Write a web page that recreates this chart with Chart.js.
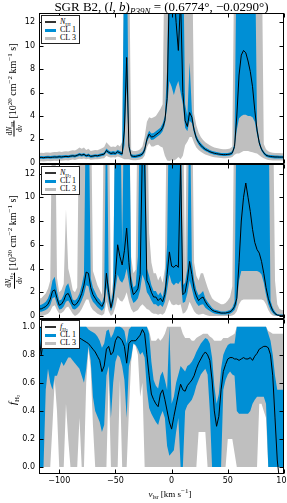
<!DOCTYPE html>
<html>
<head>
<meta charset="utf-8">
<script src="https://cdn.jsdelivr.net/npm/chart.js@4.4.0/dist/chart.umd.min.js"></script>
<style>
  html, body { margin: 0; padding: 0; background: #fff; overflow: hidden; }
  #wrap { position: relative; width: 287px; height: 503px; overflow: hidden; font-family: 'Liberation Serif', serif; color: #000; }
  canvas { position: absolute; left: 0; }
  .title { position: absolute; left: 0; top: 0; width: 323px; text-align: center; font-size: 13px; line-height: 13px; white-space: nowrap; }
  .title sub { font-size: 9px; vertical-align: -3px; line-height: 0; }
  .ylab { position: absolute; white-space: nowrap; font-size: 10px; line-height: 10px; transform: translate(-50%, -50%) rotate(-90deg); }
  .ylab sup, .xlab sup { font-size: 7px; vertical-align: 4px; line-height: 0; }
  .frac { display: inline-block; vertical-align: middle; text-align: center; font-size: 7.5px; line-height: 7px; margin-right: 2px; }
  .frac .nu { display: block; border-bottom: 0.7px solid #000; padding: 0 1px 1px 1px; }
  .frac .de { display: block; padding-top: 1px; }
  .frac sub, .ylab sub { font-size: 5px; vertical-align: -2px; line-height: 0; }
  .ylab sub sub { font-size: 4px; vertical-align: -1px; }
  .flab { font-size: 11px; }
  .flab sub { font-size: 7px; vertical-align: -3px; }
  .xlab { position: absolute; white-space: nowrap; font-size: 9px; line-height: 9px; transform: translate(-50%, -50%); }
  .xlab sub { font-size: 6px; vertical-align: -2px; line-height: 0; }
  .leg { position: absolute; left: 41px; width: 37px; height: 27px; border: 1px solid #222; background: #fff; opacity: 0.999; }
  .row { position: absolute; left: 0; width: 100%; height: 8px; }
  .sw { position: absolute; left: 3px; width: 11px; }
  .sk { background: #333; height: 2px; top: 3px; }
  .sb { background: #008fd5; height: 3px; top: 3px; }
  .sg { background: #bfbfbf; height: 3px; top: 3px; }
  .lt { position: absolute; left: 18px; top: 0; font-size: 8px; line-height: 8px; white-space: nowrap; color: #000; }
  .lt sub { font-size: 5px; vertical-align: -2px; line-height: 0; }
  .lt sub sub { font-size: 4px; vertical-align: -1px; }
</style>
</head>
<body>
<div id="wrap">
  <canvas id="cHI" width="287" height="175" style="top:0px;width:287px;height:175px"></canvas>
  <canvas id="cH2" width="287" height="175" style="top:155px;width:287px;height:175px"></canvas>
  <canvas id="cF" width="287" height="193" style="top:310px;width:287px;height:193px"></canvas>

  <div class="title">SGR B2, (<i>l</i>, <i>b</i>)<sub><i>P39N</i></sub> = (0.6774°, −0.0290°)</div>

  <div class="ylab" style="left:14px;top:90px"><span class="frac"><span class="nu">d<i>N</i><sub>HI</sub></span><span class="de">d<i>v</i></span></span>[10<sup>20</sup> cm<sup>−2</sup> km<sup>−1</sup> s]</div>
  <div class="ylab" style="left:14px;top:242px"><span class="frac"><span class="nu">d<i>N</i><sub>H<sub>2</sub></sub></span><span class="de">d<i>v</i></span></span>[10<sup>20</sup> cm<sup>−2</sup> km<sup>−1</sup> s]</div>
  <div class="ylab flab" style="left:13px;top:400px"><i>f</i><sub>H<sub>2</sub></sub></div>
  <div class="xlab" style="left:170px;top:494px"><i>v</i><sub>lsr</sub> [km s<sup>−1</sup>]</div>

  <div class="leg" style="top:15px">
    <div class="row" style="top:2px"><span class="sw sk"></span><span class="lt"><i>N</i><sub>HI</sub></span></div>
    <div class="row" style="top:10px"><span class="sw sb"></span><span class="lt">CL 1</span></div>
    <div class="row" style="top:18px"><span class="sw sg"></span><span class="lt">CL 3</span></div>
  </div>
  <div class="leg" style="top:166px">
    <div class="row" style="top:2px"><span class="sw sk"></span><span class="lt"><i>N</i><sub>H<sub>2</sub></sub></span></div>
    <div class="row" style="top:10px"><span class="sw sb"></span><span class="lt">CL 1</span></div>
    <div class="row" style="top:18px"><span class="sw sg"></span><span class="lt">CL 3</span></div>
  </div>
  <div class="leg" style="top:320px">
    <div class="row" style="top:2px"><span class="sw sk"></span><span class="lt"><i>f</i><sub>H<sub>2</sub></sub></span></div>
    <div class="row" style="top:10px"><span class="sw sb"></span><span class="lt">CL 1</span></div>
    <div class="row" style="top:18px"><span class="sw sg"></span><span class="lt">CL 3</span></div>
  </div>
</div>

<script>
// velocity channels (km/s)
const velocity = [
  -118,-116,-114,-112,-110,-108,-106,-104,-102,-100,
  -98,-96,-94,-92,-90,-88,-86,-84,-82,-80,
  -78,-76,-74,-72,-70,-68,-66,-64,-62,-60,
  -58,-56,-54,-52,-50,-48,-46,-44,-42,-40,
  -38,-36,-34,-32,-30,-28,-26,-24,-22,-20,
  -18,-16,-14,-12,-10,-8,-6,-4,-2,0,
  2,4,6,8,10,12,14,16,18,20,
  22,24,26,28,30,32,34,36,38,40,
  42,44,46,48,50,52,54,56,58,60,
  62,64,66,68,70,72,74,76,78,80,
  82,84,86,88,90,92,94,96,98,100
];

const xTicks = [-100, -50, 0, 50, 100];
const columnTicks = [0, 2, 4, 6, 8, 10, 12];
const fractionTicks = [0, 0.2, 0.4, 0.6, 0.8, 1.0];

// panel 1: dN_HI/dv
const hiLine = [
  0.45,0.46,0.44,0.47,0.48,0.46,0.48,0.50,0.49,0.52,
  0.50,0.53,0.55,0.53,0.57,0.60,0.57,0.64,0.72,0.66,
  0.72,0.60,0.66,0.55,0.58,0.62,0.60,0.65,0.70,0.75,
  1.05,0.90,0.80,0.85,0.80,0.95,0.85,0.75,2.80,9.00,
  1.40,0.60,0.55,0.55,0.60,0.65,0.75,1.10,2.00,2.45,
  2.20,2.25,2.40,2.55,2.70,3.00,3.60,5.50,15,15,
  15,12,9.6,14,6.0,3.6,3.1,4.3,3.9,2.8,
  2.1,1.75,1.5,1.3,1.15,1.05,0.95,0.88,0.82,0.78,
  0.75,0.72,0.70,0.70,0.72,0.75,0.85,1.40,4.00,7.50,
  9.20,9.60,9.40,8.70,7.80,6.50,4.50,2.80,1.70,1.15,
  0.85,0.65,0.58,0.54,0.52,0.50,0.50,0.49,0.49,0.49
];
const hiCL1lo = [
  0.33,0.34,0.32,0.35,0.36,0.34,0.36,0.38,0.37,0.40,
  0.38,0.41,0.43,0.41,0.45,0.48,0.45,0.52,0.59,0.54,
  0.59,0.48,0.53,0.43,0.46,0.50,0.48,0.53,0.58,0.62,
  0.90,0.76,0.66,0.70,0.66,0.80,0.70,0.60,1.50,6.50,
  1.10,0.46,0.42,0.42,0.46,0.50,0.60,0.90,1.75,2.20,
  1.95,2.00,2.15,2.30,2.45,2.70,3.25,4.80,7.00,6.50,
  5.80,6.50,7.00,6.00,5.00,3.00,2.70,3.60,3.40,2.50,
  1.90,1.55,1.32,1.14,1.00,0.92,0.82,0.76,0.70,0.66,
  0.63,0.60,0.58,0.58,0.60,0.63,0.72,1.20,2.80,3.80,
  4.00,4.10,4.10,4.00,4.00,3.90,3.50,2.40,1.50,1.00,
  0.72,0.53,0.46,0.42,0.40,0.38,0.38,0.37,0.37,0.37
];
const hiCL1hi = [
  0.57,0.58,0.56,0.59,0.60,0.58,0.60,0.62,0.61,0.64,
  0.62,0.65,0.67,0.65,0.69,0.72,0.69,0.76,0.85,0.78,
  0.85,0.72,0.79,0.67,0.70,0.74,0.72,0.77,0.82,0.88,
  1.22,1.05,0.94,1.00,0.95,1.12,1.00,0.92,20,20,
  1.75,0.74,0.68,0.68,0.74,0.80,0.92,1.35,2.30,2.75,
  2.50,2.55,2.70,2.85,3.00,3.35,4.00,8.00,20,20,
  20,20,20,20,20,5.00,4.00,8.60,4.50,3.10,
  2.35,1.95,1.70,1.48,1.32,1.20,1.10,1.02,0.96,0.92,
  0.88,0.85,0.83,0.83,0.85,0.88,1.00,1.70,20,20,
  20,20,20,20,20,20,20,3.20,2.00,1.30,
  0.98,0.78,0.70,0.66,0.64,0.62,0.62,0.61,0.61,0.61
];
const hiCL3lo = [
  0.12,0.13,0.11,0.14,0.15,0.13,0.15,0.17,0.16,0.19,
  0.17,0.20,0.22,0.20,0.25,0.28,0.25,0.30,0.35,0.32,
  0.38,0.30,0.34,0.27,0.29,0.31,0.30,0.33,0.36,0.40,
  0.60,0.50,0.45,0.48,0.45,0.55,0.48,0.40,0.30,0.30,
  0.30,0.25,0.22,0.22,0.25,0.28,0.35,0.60,1.30,1.70,
  1.40,1.40,1.50,1.55,1.40,1.30,0.60,0.20,0.15,0.25,
  0.20,0.30,0.50,0.30,0.60,1.50,1.80,2.20,2.20,1.70,
  1.30,1.10,0.95,0.82,0.72,0.65,0.58,0.52,0.48,0.46,
  0.44,0.42,0.40,0.40,0.42,0.44,0.50,0.70,0.80,0.80,
  0.90,1.00,1.00,1.00,0.95,0.90,0.85,0.80,0.65,0.50,
  0.40,0.30,0.25,0.22,0.20,0.20,0.20,0.19,0.19,0.19
];
const hiCL3hi = [
  0.85,0.86,0.84,0.88,0.89,0.87,0.90,0.92,0.92,0.96,
  0.93,0.96,0.99,0.96,1.03,1.08,1.05,1.15,1.30,1.20,
  1.30,1.10,1.20,1.00,1.05,1.10,1.08,1.15,1.25,1.35,
  1.75,1.55,1.35,1.40,1.35,1.55,1.40,1.80,20,20,
  20,1.10,1.00,1.00,1.05,1.15,1.40,2.20,3.50,3.90,
  3.80,3.90,4.00,4.30,4.60,5.00,20,20,20,20,
  20,20,20,20,20,20,20,20,20,4.20,
  3.20,2.60,2.20,1.95,1.75,1.62,1.50,1.40,1.32,1.26,
  1.22,1.18,1.15,1.15,1.18,1.22,1.40,20,20,20,
  20,20,20,20,20,20,20,20,20,20,
  1.60,1.15,0.98,0.90,0.86,0.84,0.83,0.83,0.82,0.82
];

// panel 2: dN_H2/dv
const h2Line = [
  0.60,0.60,0.70,0.80,1.00,1.40,2.10,2.20,1.50,0.90,
  1.00,1.30,1.80,1.90,1.50,1.00,0.90,1.10,1.40,1.90,
  2.60,3.70,3.60,2.40,1.80,1.50,1.20,1.00,0.80,1.20,
  3.60,2.00,0.70,1.50,3.50,6.00,5.00,4.30,5.50,7.40,
  4.50,2.60,1.80,2.00,2.30,3.50,14.0,13.0,3.00,2.60,
  2.00,1.60,1.60,1.30,1.50,1.20,1.80,3.50,5.40,4.20,
  4.10,4.30,4.10,13.0,1.80,2.00,3.00,4.60,3.50,2.30,
  1.70,1.30,1.50,1.60,1.20,0.90,0.70,0.50,0.40,0.35,
  0.30,0.25,0.25,0.25,0.30,0.35,0.50,0.80,1.50,4.50,
  8.00,10.0,11.2,10.0,8.80,7.30,6.20,5.60,5.30,4.60,
  3.60,2.40,1.50,0.90,0.45,0.20,0.08,0.05,0.05,0.05
];
const h2CL1lo = [
  0.35,0.35,0.42,0.50,0.65,0.90,1.50,1.60,1.00,0.55,
  0.60,0.80,1.20,1.30,1.00,0.60,0.55,0.70,0.90,1.30,
  1.80,2.60,2.50,1.60,1.20,1.00,0.75,0.60,0.45,0.70,
  2.40,1.20,0.40,0.90,2.30,3.50,3.00,2.80,3.20,4.00,
  2.80,1.60,1.10,1.25,1.50,2.20,3.50,3.00,2.00,1.70,
  1.30,1.00,1.00,0.80,0.95,0.75,1.20,2.20,3.50,2.80,
  2.60,2.80,2.70,3.00,1.10,1.20,1.90,3.00,2.30,1.50,
  1.10,0.85,0.95,1.00,0.70,0.55,0.42,0.30,0.22,0.18,
  0.15,0.12,0.12,0.12,0.15,0.20,0.32,0.50,1.00,3.00,
  3.80,3.80,3.80,3.80,3.80,3.80,3.80,3.80,3.70,3.50,
  2.80,1.80,1.00,0.50,0.25,0.08,0.02,0.00,0.00,0.00
];
const h2CL1hi = [
  0.90,0.95,1.05,1.20,1.50,2.00,3.00,3.30,2.10,1.30,
  1.40,1.80,2.50,2.75,2.10,1.40,1.30,1.50,1.90,2.60,
  3.50,20,20,3.20,2.40,2.00,1.60,1.40,1.10,1.70,
  20,2.80,1.10,2.10,20,20,20,6.00,20,20,
  20,3.40,2.40,2.60,5.00,20,20,20,4.00,3.40,
  2.60,2.10,2.10,1.75,2.00,1.60,2.50,6.00,20,20,
  20,20,20,20,2.60,2.80,4.00,20,4.60,3.00,
  2.20,1.75,1.90,2.10,1.50,1.20,0.95,0.70,0.55,0.50,
  0.45,0.38,0.38,0.38,0.45,0.50,0.70,1.20,20,20,
  20,20,20,20,20,20,20,20,20,20,
  20,20,20,1.30,0.70,0.35,0.18,0.12,0.12,0.12
];
const h2CL3lo = [
  0.05,0.00,0.05,0.10,0.20,0.40,0.80,0.90,0.50,0.20,
  0.25,0.40,0.70,0.80,0.50,0.20,0.00,0.10,0.30,0.60,
  1.00,1.40,1.40,0.80,0.50,0.35,0.20,0.10,0.05,0.20,
  1.20,0.40,0.00,0.20,0.80,1.60,1.30,1.20,1.50,2.00,
  1.20,0.60,0.30,0.40,0.50,0.80,1.00,0.80,0.60,0.50,
  0.30,0.20,0.20,0.10,0.20,0.10,0.30,0.80,1.40,1.00,
  0.90,1.00,0.90,1.00,0.20,0.30,0.60,1.20,0.80,0.40,
  0.20,0.10,0.15,0.20,0.10,0.05,0.00,0.00,0.00,0.00,
  0.00,0.00,0.00,0.00,0.00,0.00,0.05,0.15,0.40,1.00,
  1.30,1.40,1.40,1.40,1.40,1.40,1.40,1.40,1.40,1.40,
  1.30,1.00,0.50,0.20,0.05,0.00,0.00,0.00,0.00,0.00
];
const h2CL3hi = [
  1.50,1.50,1.70,1.90,2.30,3.00,20,20,3.20,2.00,
  2.20,2.70,9.00,4.00,3.20,2.20,2.00,2.40,20,20,
  20,20,20,20,3.80,3.20,2.60,2.20,1.80,20,
  20,20,1.60,3.00,20,20,20,20,20,20,
  20,5.00,3.60,3.90,20,20,20,20,20,7.00,
  4.50,3.60,3.60,3.00,3.40,2.80,4.00,20,20,20,
  20,20,20,20,20,3.80,20,20,20,4.50,
  3.40,3.00,3.60,3.60,3.00,2.40,1.90,1.50,1.30,1.20,
  1.10,1.00,1.00,1.10,1.30,1.60,2.50,20,20,20,
  20,20,20,20,20,20,20,20,20,20,
  20,20,20,20,20,3.00,1.00,0.60,0.50,0.50
];

// panel 3: f_H2
const fLine = [
  0.93,0.80,0.90,0.95,0.96,0.96,0.95,0.96,0.95,0.96,
  0.95,0.94,0.93,0.94,0.95,0.95,0.94,0.93,0.92,0.91,
  0.90,0.89,0.88,0.86,0.84,0.82,0.79,0.76,0.68,0.72,
  0.84,0.86,0.80,0.82,0.90,0.93,0.92,0.90,0.86,0.74,
  0.88,0.90,0.90,0.90,0.92,0.94,0.98,0.95,0.80,0.65,
  0.52,0.48,0.45,0.43,0.52,0.55,0.48,0.40,0.32,0.27,
  0.36,0.44,0.52,0.59,0.55,0.54,0.58,0.60,0.62,0.65,
  0.70,0.74,0.77,0.80,0.82,0.80,0.76,0.62,0.40,0.29,
  0.36,0.55,0.68,0.73,0.77,0.78,0.78,0.77,0.77,0.76,
  0.77,0.78,0.77,0.77,0.78,0.76,0.79,0.81,0.84,0.85,
  0.86,0.86,0.85,0.80,0.65,0.35,0.05,-0.10,-0.25,-0.40
];
const fCL1lo = [
  0.00,0.00,0.00,0.55,0.70,0.60,0.55,0.65,0.65,0.70,
  0.75,0.72,0.75,0.78,0.78,0.76,0.74,0.72,0.70,0.65,
  0.60,0.70,0.86,0.76,0.50,0.40,0.36,0.32,0.25,0.30,
  0.65,0.72,0.35,0.60,0.75,0.80,0.78,0.72,0.62,0.35,
  0.72,0.78,0.88,0.87,0.84,0.80,0.82,0.78,0.55,0.42,
  0.38,0.35,0.32,0.30,0.36,0.40,0.35,0.15,0.08,0.10,
  0.12,0.25,0.35,0.00,0.00,0.40,0.44,0.46,0.48,0.52,
  0.58,0.62,0.66,0.68,0.70,0.66,0.40,0.00,0.00,0.00,
  0.00,0.00,0.55,0.62,0.66,0.68,0.66,0.65,0.40,0.38,
  0.38,0.38,0.38,0.38,0.40,0.45,0.48,0.50,0.50,0.50,
  0.50,0.45,0.00,0.00,0.00,0.00,0.00,0.00,0.00,0.00
];
const fCL1hi = [
  1.00,1.00,1.00,1.00,1.00,1.00,1.00,1.00,1.00,1.00,
  1.00,1.00,1.00,1.00,1.00,1.00,1.00,1.00,1.00,1.00,
  1.00,1.00,0.98,0.97,0.96,0.95,0.93,0.90,0.85,0.88,
  0.97,0.98,0.92,0.95,1.00,1.00,1.00,0.99,0.97,0.88,
  0.98,1.00,1.00,1.00,1.00,1.00,1.00,1.00,1.00,0.95,
  0.75,0.62,0.58,0.56,0.65,0.68,0.62,0.55,1.00,0.45,
  0.50,0.60,0.66,0.72,0.70,0.68,0.72,0.73,0.75,0.78,
  0.82,0.85,0.88,0.90,0.92,0.91,0.88,0.78,0.58,0.45,
  0.52,0.70,0.80,0.84,0.87,0.88,0.88,0.88,1.00,1.00,
  1.00,1.00,1.00,1.00,1.00,1.00,1.00,1.00,1.00,1.00,
  1.00,1.00,0.95,0.90,0.80,0.65,0.55,0.55,0.55,0.55
];
const fCL3lo = [
  0.00,0.00,0.00,0.00,0.00,0.00,0.30,0.62,0.40,0.00,
  0.00,0.00,0.45,0.20,0.00,0.00,0.00,0.00,0.35,0.00,
  0.00,0.60,0.84,0.70,0.30,0.00,0.00,0.00,0.00,0.00,
  0.00,0.65,0.00,0.00,0.00,0.00,0.62,0.00,0.00,0.00,
  0.40,0.75,0.88,0.86,0.80,0.50,0.60,0.00,0.00,0.00,
  0.00,0.00,0.00,0.00,0.00,0.00,0.00,0.00,0.00,0.00,
  0.00,0.00,0.00,0.00,0.00,0.00,0.00,0.00,0.00,0.00,
  0.00,0.25,0.25,0.25,0.25,0.00,0.00,0.00,0.00,0.00,
  0.00,0.00,0.00,0.00,0.20,0.20,0.20,0.10,0.00,0.00,
  0.00,0.00,0.00,0.00,0.00,0.00,0.00,0.00,0.45,0.45,
  0.40,0.35,0.00,0.00,0.00,0.00,0.00,0.00,0.00,0.00
];
const fCL3hi = [
  1.00,1.00,1.00,1.00,1.00,1.00,1.00,1.00,1.00,1.00,
  1.00,1.00,1.00,1.00,1.00,1.00,1.00,1.00,1.00,1.00,
  1.00,1.00,1.00,1.00,1.00,1.00,1.00,1.00,1.00,1.00,
  1.00,1.00,1.00,1.00,1.00,1.00,1.00,1.00,1.00,1.00,
  1.00,1.00,1.00,1.00,1.00,1.00,1.00,1.00,1.00,0.97,
  0.90,0.90,0.90,0.92,0.90,0.92,0.95,1.00,1.00,1.00,
  1.00,1.00,1.00,1.00,0.95,0.92,0.92,0.92,0.90,0.90,
  0.92,0.93,0.94,0.95,0.95,0.95,0.93,0.92,0.90,0.90,
  0.90,0.90,0.92,0.92,0.92,0.93,0.94,0.95,1.00,1.00,
  1.00,1.00,1.00,1.00,1.00,1.00,1.00,1.00,1.00,1.00,
  1.00,1.00,0.97,0.96,0.95,0.95,0.95,0.95,0.95,0.95
];

const BLUE = '#008fd5';
const GRAY = '#bfbfbf';
const tickFont = { family: 'DejaVu Sans', size: 8 };

function pts(arr) {
  return velocity.map((v, i) => ({ x: v, y: arr[i] }));
}

function fmtX(v) {
  return v < 0 ? '\u2212' + Math.abs(v) : String(v);
}

// box round the plot and inward ticks on all four sides, like the mpl classic style
const frameTicks = {
  id: 'frameTicks',
  afterDraw(chart) {
    const { ctx, chartArea: a } = chart;
    const xs = chart.scales.x, ys = chart.scales.y;
    const L = Math.round(a.left) + 0.5, R = Math.round(a.right) - 0.5;
    const T = Math.round(a.top) + 0.5, B = Math.round(a.bottom) - 0.5;
    ctx.save();
    ctx.strokeStyle = '#000';
    ctx.lineWidth = 1;
    ctx.beginPath();
    xTicks.forEach(v => {
      const px = Math.round(xs.getPixelForValue(v)) + 0.5;
      ctx.moveTo(px, T); ctx.lineTo(px, T + 4);
      ctx.moveTo(px, B); ctx.lineTo(px, B - 4);
    });
    ys.ticks.forEach(t => {
      const py = Math.round(ys.getPixelForValue(t.value)) + 0.5;
      ctx.moveTo(L, py); ctx.lineTo(L + 4, py);
      ctx.moveTo(R, py); ctx.lineTo(R - 4, py);
    });
    ctx.stroke();
    ctx.strokeRect(L, T, R - L, B - T);
    ctx.restore();
  }
};

function bandSet(arr, fill, color) {
  return {
    data: pts(arr), fill: fill, backgroundColor: color,
    borderColor: 'rgba(0,0,0,0)', borderWidth: 0, pointRadius: 0, tension: 0
  };
}

function makePanel(id, cfg) {
  return new Chart(document.getElementById(id), {
    type: 'line',
    data: {
      datasets: [
        { data: pts(cfg.line), borderColor: '#000', borderWidth: 1, pointRadius: 0, fill: false, tension: 0 },
        bandSet(cfg.cl1lo, false, BLUE),
        bandSet(cfg.cl1hi, '-1', BLUE),
        bandSet(cfg.cl3lo, false, GRAY),
        bandSet(cfg.cl3hi, '-1', GRAY)
      ]
    },
    options: {
      responsive: false,
      animation: false,
      devicePixelRatio: 1,
      layout: { padding: cfg.pad },
      plugins: { legend: { display: false }, tooltip: { enabled: false } },
      scales: {
        x: {
          type: 'linear', min: -118, max: 100, display: cfg.showX,
          grid: { display: false, drawTicks: false }, border: { display: false },
          afterBuildTicks: s => { s.ticks = xTicks.map(v => ({ value: v })); },
          ticks: { font: tickFont, color: '#000', padding: 2, maxRotation: 0, autoSkip: false, callback: v => fmtX(v) },
          afterFit: s => { s.height = cfg.showX ? 29 : 0; s.paddingLeft = 0; s.paddingRight = 0; }
        },
        y: {
          type: 'linear', min: cfg.ymin, max: cfg.ymax,
          grid: { display: false, drawTicks: false }, border: { display: false },
          afterBuildTicks: s => { s.ticks = cfg.yTicks.map(v => ({ value: v })); },
          ticks: { font: tickFont, color: '#000', padding: 4, autoSkip: false, callback: cfg.yFmt },
          afterFit: s => { s.width = 39; s.paddingTop = 0; s.paddingBottom = 0; }
        }
      }
    },
    plugins: [frameTicks]
  });
}

makePanel('cHI', {
  line: hiLine, cl1lo: hiCL1lo, cl1hi: hiCL1hi, cl3lo: hiCL3lo, cl3hi: hiCL3hi,
  ymin: -0.1, ymax: 12.8, yTicks: columnTicks, yFmt: v => String(v),
  showX: false, pad: { top: 13, bottom: 11, left: 0, right: 3 }
});
makePanel('cH2', {
  line: h2Line, cl1lo: h2CL1lo, cl1hi: h2CL1hi, cl3lo: h2CL3lo, cl3hi: h2CL3hi,
  ymin: -0.25, ymax: 12.8, yTicks: columnTicks, yFmt: v => String(v),
  showX: false, pad: { top: 9, bottom: 11, left: 0, right: 3 }
});
makePanel('cF', {
  line: fLine, cl1lo: fCL1lo, cl1hi: fCL1hi, cl3lo: fCL3lo, cl3hi: fCL3hi,
  ymin: -0.05, ymax: 1.055, yTicks: fractionTicks, yFmt: v => v.toFixed(1),
  showX: true, pad: { top: 9, bottom: 0, left: 0, right: 3 }
});
</script>
</body>
</html>
